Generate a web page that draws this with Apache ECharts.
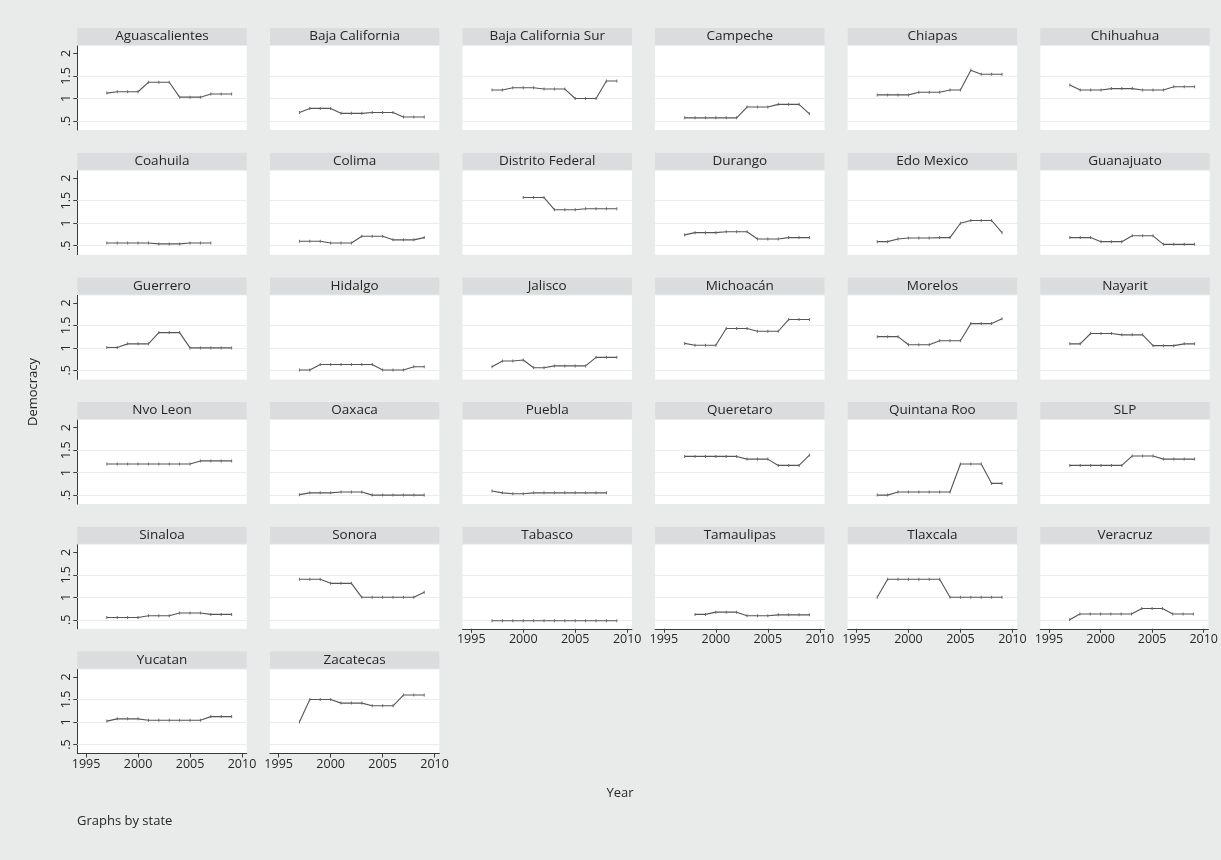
<!DOCTYPE html>
<html>
<head>
<meta charset="utf-8">
<script src="https://cdn.jsdelivr.net/npm/echarts@6/dist/echarts.min.js"></script>
<style>
  html, body { margin: 0; padding: 0; background: #e9ebeb; }
  #chart { width: 1221px; height: 860px; }
</style>
</head>
<body>
<div id="chart"></div>
<script>
// Democracy index by Mexican state, 1997-2009 (null = no observation)
const years = [1997, 1998, 1999, 2000, 2001, 2002, 2003, 2004, 2005, 2006, 2007, 2008, 2009];
const yTicks = [0.5, 1, 1.5, 2];
const yTickLabels = ['.5', '1', '1.5', '2'];
const xTicks = [1995, 2000, 2005, 2010];
const gridValues = [0.5, 1, 1.5];

const aguascalientes    = [1.12, 1.15, 1.15, 1.15, 1.36, 1.36, 1.36, 1.03, 1.03, 1.03, 1.10, 1.10, 1.10];
const bajaCalifornia    = [0.69, 0.78, 0.78, 0.78, 0.67, 0.67, 0.67, 0.69, 0.69, 0.69, 0.59, 0.59, 0.59];
const bajaCaliforniaSur = [1.19, 1.19, 1.24, 1.24, 1.24, 1.21, 1.21, 1.21, 1.00, 1.00, 1.00, 1.39, 1.39];
const campeche          = [0.57, 0.57, 0.57, 0.57, 0.57, 0.57, 0.81, 0.81, 0.81, 0.87, 0.87, 0.87, 0.66];
const chiapas           = [1.08, 1.08, 1.08, 1.08, 1.14, 1.14, 1.14, 1.19, 1.19, 1.63, 1.54, 1.54, 1.54];
const chihuahua         = [1.30, 1.19, 1.19, 1.19, 1.22, 1.22, 1.22, 1.19, 1.19, 1.19, 1.26, 1.26, 1.26];
const coahuila          = [0.56, 0.56, 0.56, 0.56, 0.56, 0.54, 0.54, 0.54, 0.56, 0.56, 0.56, null, null];
const colima            = [0.60, 0.60, 0.60, 0.56, 0.56, 0.56, 0.71, 0.71, 0.71, 0.63, 0.63, 0.63, 0.68];
const distritoFederal   = [null, null, null, 1.57, 1.57, 1.57, 1.30, 1.30, 1.30, 1.32, 1.32, 1.32, 1.32];
const durango           = [0.74, 0.79, 0.79, 0.79, 0.81, 0.81, 0.81, 0.65, 0.65, 0.65, 0.68, 0.68, 0.68];
const edoMexico         = [0.59, 0.59, 0.65, 0.67, 0.67, 0.67, 0.68, 0.68, 1.00, 1.06, 1.06, 1.06, 0.79];
const guanajuato        = [0.68, 0.68, 0.68, 0.59, 0.59, 0.59, 0.72, 0.72, 0.72, 0.53, 0.53, 0.53, 0.53];
const guerrero          = [1.01, 1.01, 1.09, 1.09, 1.09, 1.34, 1.34, 1.34, 1.00, 1.00, 1.00, 1.00, 1.00];
const hidalgo           = [0.51, 0.51, 0.63, 0.63, 0.63, 0.63, 0.63, 0.63, 0.51, 0.51, 0.51, 0.58, 0.58];
const jalisco           = [0.58, 0.71, 0.71, 0.73, 0.56, 0.56, 0.60, 0.60, 0.60, 0.60, 0.79, 0.79, 0.79];
const michoacan         = [1.10, 1.06, 1.06, 1.06, 1.43, 1.43, 1.43, 1.37, 1.37, 1.37, 1.63, 1.63, 1.63];
const morelos           = [1.25, 1.25, 1.25, 1.07, 1.07, 1.07, 1.16, 1.16, 1.16, 1.54, 1.54, 1.54, 1.65];
const nayarit           = [1.09, 1.09, 1.32, 1.32, 1.32, 1.29, 1.29, 1.29, 1.05, 1.05, 1.05, 1.09, 1.09];
const nvoLeon           = [1.19, 1.19, 1.19, 1.19, 1.19, 1.19, 1.19, 1.19, 1.19, 1.26, 1.26, 1.26, 1.26];
const oaxaca            = [0.51, 0.55, 0.55, 0.55, 0.57, 0.57, 0.57, 0.50, 0.50, 0.50, 0.50, 0.50, 0.50];
const puebla            = [0.59, 0.55, 0.53, 0.53, 0.55, 0.55, 0.55, 0.55, 0.55, 0.55, 0.55, 0.55, null];
const queretaro         = [1.36, 1.36, 1.36, 1.36, 1.36, 1.36, 1.30, 1.30, 1.30, 1.16, 1.16, 1.16, 1.39];
const quintanaRoo       = [0.50, 0.50, 0.57, 0.57, 0.57, 0.57, 0.57, 0.57, 1.19, 1.19, 1.19, 0.76, 0.76];
const slp               = [1.16, 1.16, 1.16, 1.16, 1.16, 1.16, 1.37, 1.37, 1.37, 1.30, 1.30, 1.30, 1.30];
const sinaloa           = [0.55, 0.55, 0.55, 0.55, 0.59, 0.59, 0.59, 0.65, 0.65, 0.65, 0.62, 0.62, 0.62];
const sonora            = [1.40, 1.40, 1.40, 1.31, 1.31, 1.31, 1.00, 1.00, 1.00, 1.00, 1.00, 1.00, 1.11];
const tabasco           = [0.48, 0.48, 0.48, 0.48, 0.48, 0.48, 0.48, 0.48, 0.48, 0.48, 0.48, 0.48, 0.48];
const tamaulipas        = [null, 0.62, 0.62, 0.67, 0.67, 0.67, 0.59, 0.59, 0.59, 0.61, 0.61, 0.61, 0.61];
const tlaxcala          = [1.00, 1.40, 1.40, 1.40, 1.40, 1.40, 1.40, 1.00, 1.00, 1.00, 1.00, 1.00, 1.00];
const veracruz          = [0.50, 0.63, 0.63, 0.63, 0.63, 0.63, 0.63, 0.75, 0.75, 0.75, 0.63, 0.63, 0.63];
const yucatan           = [1.02, 1.07, 1.07, 1.07, 1.04, 1.04, 1.04, 1.04, 1.04, 1.04, 1.12, 1.12, 1.12];
const zacatecas         = [1.00, 1.50, 1.50, 1.50, 1.42, 1.42, 1.42, 1.36, 1.36, 1.36, 1.60, 1.60, 1.60];

const stateNames = [
  'Aguascalientes', 'Baja California', 'Baja California Sur', 'Campeche', 'Chiapas', 'Chihuahua',
  'Coahuila', 'Colima', 'Distrito Federal', 'Durango', 'Edo Mexico', 'Guanajuato',
  'Guerrero', 'Hidalgo', 'Jalisco', 'Michoacán', 'Morelos', 'Nayarit',
  'Nvo Leon', 'Oaxaca', 'Puebla', 'Queretaro', 'Quintana Roo', 'SLP',
  'Sinaloa', 'Sonora', 'Tabasco', 'Tamaulipas', 'Tlaxcala', 'Veracruz',
  'Yucatan', 'Zacatecas'
];
const stateValues = [
  aguascalientes, bajaCalifornia, bajaCaliforniaSur, campeche, chiapas, chihuahua,
  coahuila, colima, distritoFederal, durango, edoMexico, guanajuato,
  guerrero, hidalgo, jalisco, michoacan, morelos, nayarit,
  nvoLeon, oaxaca, puebla, queretaro, quintanaRoo, slp,
  sinaloa, sonora, tabasco, tamaulipas, tlaxcala, veracruz,
  yucatan, zacatecas
];

// panel geometry
const NCOL = 6;
const LEFT0 = 77.3, COL_STEP = 192.6, PLOT_W = 169.4;
const TOP0 = 46, ROW_STEP = 124.7, PLOT_H = 84;
const STRIP_H = 17;
const FONT = '"Open Sans", "Noto Sans", sans-serif';
const INK = '#262626';
const LINE = '#555555';

const n = stateNames.length;
const lastRowOfCol = [];
for (let c = 0; c < NCOL; c++) {
  let r = 0;
  for (let i = c; i < n; i += NCOL) r = Math.floor(i / NCOL);
  lastRowOfCol.push(r);
}

const grids = [], xAxes = [], yAxes = [], series = [], graphics = [];

for (let i = 0; i < n; i++) {
  const row = Math.floor(i / NCOL), col = i % NCOL;
  const left = LEFT0 + col * COL_STEP;
  const top = TOP0 + row * ROW_STEP;
  const showX = row === lastRowOfCol[col];
  const showY = col === 0;

  grids.push({
    left: left, top: top, width: PLOT_W, height: PLOT_H,
    show: true, backgroundColor: '#ffffff', borderWidth: 0
  });

  xAxes.push({
    type: 'value', gridIndex: i, min: 1994.16, max: 2010.45,
    axisLine: { show: showX, onZero: false, lineStyle: { color: '#3a3a3a', width: 1 } },
    axisTick: { show: showX, customValues: xTicks, length: 4, lineStyle: { color: '#3a3a3a' } },
    axisLabel: {
      show: showX, customValues: xTicks, margin: 4,
      fontFamily: FONT, fontSize: 12.5, color: INK,
      formatter: v => String(v)
    },
    splitLine: { show: false }
  });

  yAxes.push({
    type: 'value', gridIndex: i, min: 0.3, max: 2.167,
    axisLine: { show: showY, lineStyle: { color: '#3a3a3a', width: 1 } },
    axisTick: { show: showY, customValues: yTicks, length: 4, lineStyle: { color: '#3a3a3a' } },
    axisLabel: {
      show: showY, customValues: yTicks, rotate: 90, margin: 4,
      fontFamily: FONT, fontSize: 12.5, color: INK,
      formatter: v => yTickLabels[yTicks.indexOf(v)] ?? String(v)
    },
    splitLine: { show: false }
  });

  const pts = years.map((y, k) => [y, stateValues[i][k]]);

  // light horizontal grid lines, kept beneath the data line
  series.push({
    type: 'line', xAxisIndex: i, yAxisIndex: i, z: 1, silent: true,
    data: pts, showSymbol: false, lineStyle: { opacity: 0 },
    markLine: {
      z: 1, silent: true, symbol: 'none', label: { show: false },
      lineStyle: { color: '#ececec', width: 1, type: 'solid' },
      emphasis: { disabled: true },
      data: gridValues.map(v => ({ yAxis: v }))
    }
  });

  series.push({
    type: 'line', xAxisIndex: i, yAxisIndex: i, z: 10, name: stateNames[i],
    data: pts, connectNulls: false,
    symbol: 'rect', symbolSize: [1, 3], showSymbol: true, showAllSymbol: true,
    itemStyle: { color: '#6a6a6a' },
    lineStyle: { color: LINE, width: 1.1 },
    emphasis: { disabled: true }
  });

  // state title strip
  graphics.push({
    type: 'rect', silent: true,
    shape: { x: left, y: top - STRIP_H - 1, width: PLOT_W, height: STRIP_H },
    style: { fill: '#dadcdd' }
  });
  graphics.push({
    type: 'text', silent: true,
    x: left + PLOT_W / 2, y: top - 1 - STRIP_H / 2,
    style: {
      text: stateNames[i], fill: INK, font: '13.5px ' + FONT,
      align: 'center', verticalAlign: 'middle'
    }
  });
}

graphics.push({
  type: 'text', silent: true, x: 33, y: 392, rotation: Math.PI / 2,
  style: { text: 'Democracy', fill: INK, font: '13px ' + FONT, align: 'center', verticalAlign: 'middle' }
});
graphics.push({
  type: 'text', silent: true, x: 620, y: 793,
  style: { text: 'Year', fill: INK, font: '13px ' + FONT, align: 'center', verticalAlign: 'middle' }
});
graphics.push({
  type: 'text', silent: true, x: 77, y: 821,
  style: { text: 'Graphs by state', fill: INK, font: '13px ' + FONT, align: 'left', verticalAlign: 'middle' }
});

const chart = echarts.init(document.getElementById('chart'), null, { renderer: 'canvas' });
chart.setOption({
  animation: false,
  backgroundColor: '#e9ebeb',
  grid: grids,
  xAxis: xAxes,
  yAxis: yAxes,
  series: series,
  graphic: graphics
});
</script>
</body>
</html>
